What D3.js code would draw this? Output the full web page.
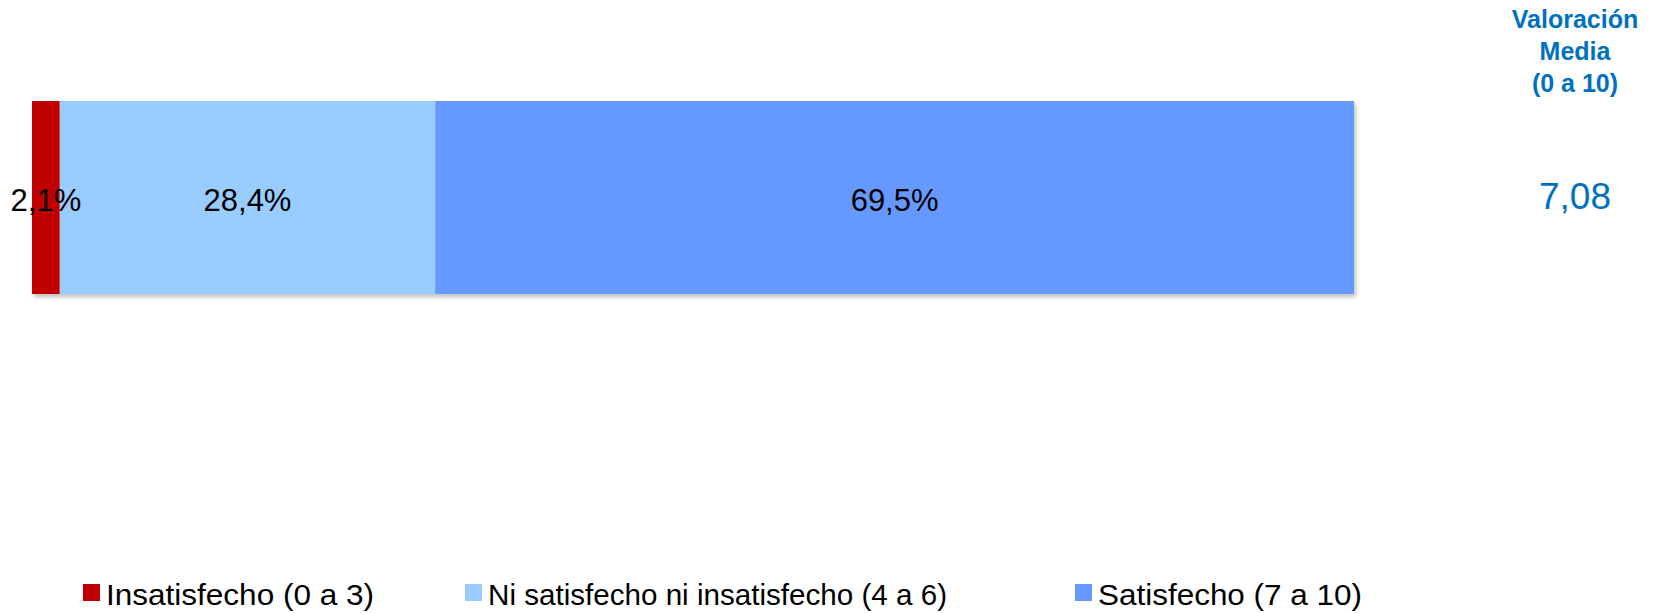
<!DOCTYPE html>
<html>
<head>
<meta charset="utf-8">
<script src="https://cdn.jsdelivr.net/npm/d3@7"></script>
<style>
  html, body { margin: 0; padding: 0; background: #fff; }
  svg { display: block; font-family: Arial, "Liberation Sans", sans-serif; }
</style>
</head>
<body>
<svg id="chart" width="1662" height="613"></svg>
<script>
// ---- data ----
const categories = ["Insatisfecho (0 a 3)", "Ni satisfecho ni insatisfecho (4 a 6)", "Satisfecho (7 a 10)"];
const values = [2.1, 28.4, 69.5];
const valueLabels = ["2,1%", "28,4%", "69,5%"];
const colors = ["#C00000", "#99CCFF", "#6699FF"];
const meanHeader = ["Valoración", "Media", "(0 a 10)"];
const meanValue = 7.08;
const meanLabel = "7,08";

// ---- layout ----
const W = 1662, H = 613;
const svg = d3.select("#chart");

const defs = svg.append("defs");
const f = defs.append("filter").attr("id", "shadow").attr("x", "-5%").attr("y", "-10%").attr("width", "110%").attr("height", "130%");
f.append("feDropShadow").attr("dx", 2).attr("dy", 3).attr("stdDeviation", 2).attr("flood-color", "#000").attr("flood-opacity", 0.25);

const x = d3.scaleLinear().domain([0, 100]).range([32, 1354]);
const y = d3.scaleBand().domain(["row"]).range([101, 294]).padding(0);

let cum = 0;
const segs = values.map((v, i) => {
  const s = { i, start: cum, end: cum + v, value: v, label: valueLabels[i], color: colors[i], cat: categories[i] };
  cum += v;
  return s;
});

const barG = svg.append("g").attr("filter", "url(#shadow)");
barG.selectAll("rect").data(segs).enter().append("rect")
  .attr("x", d => x(d.start))
  .attr("y", y("row"))
  .attr("width", d => x(d.end) - x(d.start))
  .attr("height", y.bandwidth())
  .attr("fill", d => d.color);

svg.append("g").selectAll("text").data(segs).enter().append("text")
  .attr("x", d => (x(d.start) + x(d.end)) / 2)
  .attr("y", y("row") + y.bandwidth() / 2 + 13)
  .attr("text-anchor", "middle")
  .attr("font-size", 31)
  .attr("fill", "#000")
  .text(d => d.label);

// Mean header + value
const mx = 1575;
svg.append("g").selectAll("text").data(meanHeader).enter().append("text")
  .attr("x", mx)
  .attr("y", (d, i) => 28 + i * 32)
  .attr("text-anchor", "middle")
  .attr("font-size", 25)
  .attr("font-weight", "bold")
  .attr("fill", "#0070C0")
  .text(d => d);

svg.append("text")
  .attr("x", mx)
  .attr("y", 209)
  .attr("text-anchor", "middle")
  .attr("font-size", 37)
  .attr("fill", "#0070C0")
  .text(meanLabel);

// Legend
const legendX = [83, 465, 1075];
const legendTextW = [268, 459, 264];
const lg = svg.append("g").selectAll("g").data(segs).enter().append("g")
  .attr("transform", d => `translate(${legendX[d.i]},584)`);
lg.append("rect").attr("width", 17).attr("height", 17).attr("fill", d => d.color);
lg.append("text")
  .attr("x", 23)
  .attr("y", 21)
  .attr("font-size", 29)
  .attr("fill", "#000")
  .attr("textLength", d => legendTextW[d.i])
  .attr("lengthAdjust", "spacingAndGlyphs")
  .text(d => d.cat);
</script>
</body>
</html>
